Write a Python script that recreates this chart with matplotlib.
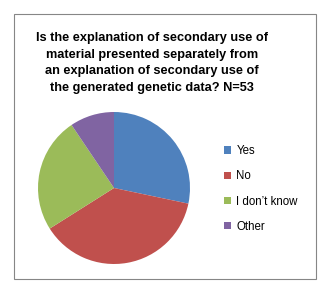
import matplotlib
matplotlib.use('Agg')
import matplotlib.pyplot as plt
from matplotlib.patches import Rectangle

# survey answers, N=53
labels = ['Yes', 'No', "I don\u2019t know", 'Other']
counts = [15, 20, 13, 5]
colors = ['#4F81BD', '#C0504D', '#9BBB59', '#8064A2']
title = ('Is the explanation of secondary use of\n'
         'material presented separately from\n'
         'an explanation of secondary use of\n'
         'the generated genetic data? N=53')

W, H = 328, 291
fig = plt.figure(figsize=(W / 100, H / 100), dpi=100)
fig.patch.set_facecolor('white')

# chart area border
fig.add_artist(Rectangle((14 / W, 1 - 279 / H), (316 - 14) / W, (279 - 14) / H,
                         transform=fig.transFigure, fill=False,
                         edgecolor='#868686', linewidth=0.8))

fig.text(152 / W, 1 - 63 / H, title, ha='center', va='center',
         fontsize=9.2, fontweight='bold', family='Liberation Sans',
         linespacing=1.55)

# pie: centre (114,188) px, radius 76 px
cx, cy, r = 114, 188, 76
ax = fig.add_axes([(cx - r) / W, (H - cy - r) / H, 2 * r / W, 2 * r / H])
wedges, _ = ax.pie(counts, colors=colors, startangle=90, counterclock=False,
                   wedgeprops=dict(linewidth=0))
ax.set_xlim(-1, 1)
ax.set_ylim(-1, 1)
ax.axis('off')

fig.legend(wedges, labels, loc='center left',
           bbox_to_anchor=(218 / W, 1 - 189 / H), frameon=False,
           prop={'family': 'Liberation Sans', 'size': 8.3},
           handlelength=0.6, handleheight=0.6, handletextpad=0.5,
           labelspacing=1.15, borderpad=0)

fig.savefig('out.png', dpi=100)
